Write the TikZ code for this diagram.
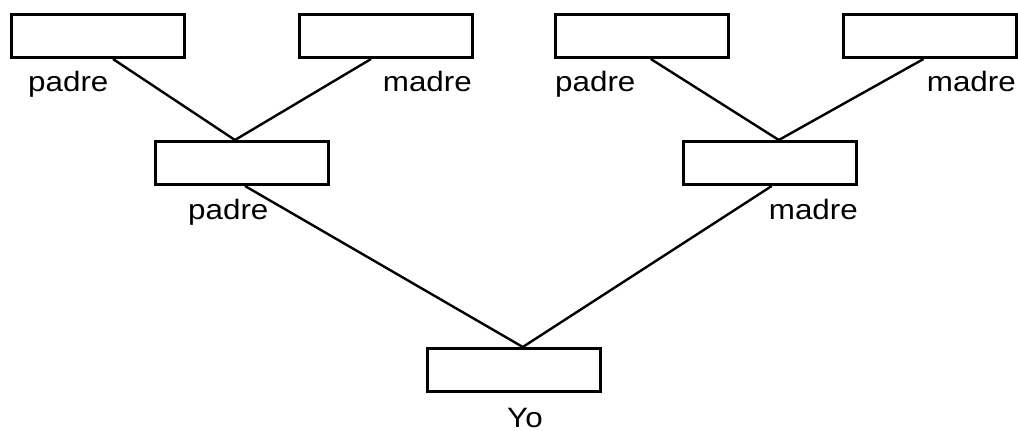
\documentclass[tikz,border=0pt]{standalone}
\usepackage{fontspec}
\setmainfont{Liberation Sans}[FakeStretch=1.12]
\usetikzlibrary{calc}
\begin{document}
\begin{tikzpicture}[x=1pt, y=-1pt, font=\fontsize{28}{32}\selectfont, line join=miter, line cap=butt,
		caja/.style={draw, line width=3pt, minimum width=173pt, minimum height=43pt, inner sep=0pt},
		rama/.style={line width=2.4pt}]
			\useasboundingbox (0,0) rectangle (1018,431);
			% cajas
			\node[caja] (abP) at (98,36) {};
			\node[caja] (abM) at (386,36) {};
			\node[caja] (abuP) at (642,36) {};
			\node[caja] (abuM) at (929.5,36) {};
			\node[caja] (padre) at (242,163) {};
			\node[caja] (madre) at (770,163) {};
			\node[caja] (yo) at (514,370) {};
			% nombres
			\node[anchor=base west, inner sep=0pt] (tabP) at (28,91.5) {padre};
			\node[anchor=base east, inner sep=0pt] (tabM) at (472,91.5) {madre};
			\node[anchor=base west, inner sep=0pt] (tabuP) at (555,91.5) {padre};
			\node[anchor=base east, inner sep=0pt] (tabuM) at (1016,91.5) {madre};
			\node[anchor=base west, inner sep=0pt] (tpadre) at (188,219) {padre};
			\node[anchor=base east, inner sep=0pt] (tmadre) at (858,219) {madre};
			\node[anchor=base west, inner sep=0pt] (tyo) at (507,427) {Yo};
			% ramas
			\draw[rama] ($(abP.south west)!.585!(abP.south east)$)--($(padre.north west)!.46!(padre.north east)$)
				--($(abM.south west)!.415!(abM.south east)$);
			\draw[rama] ($(abuP.south west)!.55!(abuP.south east)$)--($(madre.north west)!.55!(madre.north east)$)
				--($(abuM.south west)!.466!(abuM.south east)$);
			\draw[rama] ($(padre.south west)!.517!(padre.south east)$)--($(yo.north west)!.55!(yo.north east)$)
				--($(madre.south west)!.51!(madre.south east)$);
		\end{tikzpicture}
\end{document}
